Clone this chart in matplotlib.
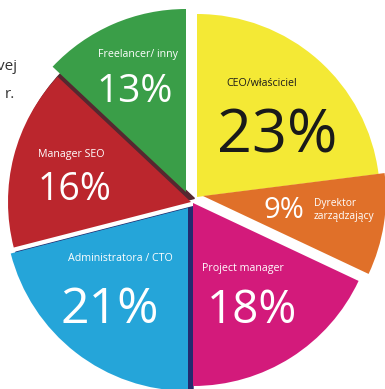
import matplotlib.pyplot as plt
from matplotlib.patches import Wedge

plt.rcParams['font.family'] = ['Open Sans', 'DejaVu Sans']

# data
roles = ['CEO/właściciel', 'Dyrektor\nzarządzający', 'Project manager',
         'Administratora / CTO', 'Manager SEO', 'Freelancer/ inny']
shares = [23, 9, 18, 21, 16, 13]
pct_labels = [f'{s}%' for s in shares]

colors = ['#F4E935', '#E07029', '#D31A7B', '#25A5D9', '#BB262D', '#3A9E48']
text_colors = ['#1a1a1a', 'white', 'white', 'white', 'white', 'white']

# layout (pixels, y up) - the picture is cropped from a bigger pie
W, H = 385, 389
cx, cy, R = 191, 189, 183
shifts = [(6, 3), (12, 4), (2, -3), (-3, -8), (0, -2), (-5, 8)]
shadows = {3: ('#232B6E', (5, 1.3)), 4: ('#552830', (3.4, 3.6))}

fig = plt.figure(figsize=(W / 100, H / 100), dpi=100)
ax = fig.add_axes([0, 0, 1, 1])

wedges, _ = ax.pie(shares, colors=colors, startangle=90, counterclock=False,
                   center=(cx, cy), radius=R)
for w, (dx, dy) in zip(wedges, shifts):
    w.set_center((cx + dx, cy + dy))
    w.set_zorder(2)

# dark "3d" strips peeking out behind two slices
for i, (col, (sx, sy)) in shadows.items():
    w = wedges[i]
    x0, y0 = w.center
    ax.add_patch(Wedge((x0 + sx, y0 + sy), w.r, w.theta1, w.theta2,
                       color=col, zorder=1))

ax.set_xlim(0, W)
ax.set_ylim(0, H)
ax.axis('off')


def at(x, y):
    return x, H - y


# label positions in picture pixels: (x, baseline y)
name_pos = [(262, 86), None, (243, 271), (120, 261), (71, 157), (138, 57)]
pct_pos = [(277, 152), (284, 218), (252, 323), (110, 323), (75, 200), (135, 102)]
pct_size = [44, 21, 33, 36, 27, 28]

for i in range(len(shares)):
    if name_pos[i] is not None:
        ax.text(*at(*name_pos[i]), roles[i], ha='center', va='baseline',
                fontsize=7.7, color=text_colors[i])
    ax.text(*at(*pct_pos[i]), pct_labels[i], ha='center', va='baseline',
            fontsize=pct_size[i], color=text_colors[i])

# director label sits beside its percentage
ax.text(*at(314, 210), roles[1], ha='left', va='center', fontsize=7.4,
        color='white', linespacing=1.2)

# cut-off text at the left edge of the original graphic
ax.text(*at(17, 70), 'vej', ha='right', va='baseline', fontsize=11, color='#333333')
ax.text(*at(15, 98), 'r.', ha='right', va='baseline', fontsize=11, color='#333333')

plt.savefig('out.png', dpi=100)
plt.close()
